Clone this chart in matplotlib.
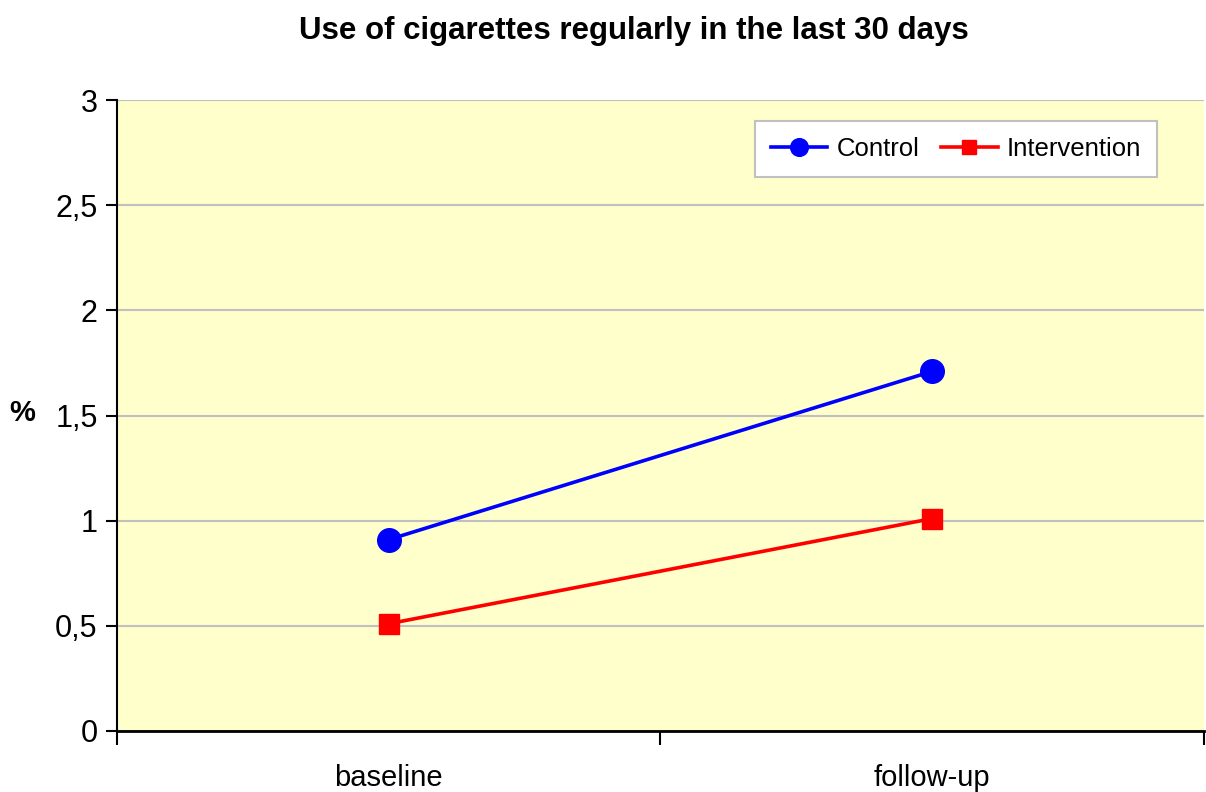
import matplotlib
matplotlib.use("Agg")
import matplotlib.pyplot as plt
from matplotlib.ticker import FixedLocator, NullFormatter, FixedFormatter

plt.rcParams['font.family'] = ['Liberation Sans', 'DejaVu Sans']

categories = ["baseline", "follow-up"]
control = [0.91, 1.71]
intervention = [0.51, 1.01]
y_ticks = [0, 0.5, 1, 1.5, 2, 2.5, 3]
y_labels = ["0", "0,5", "1", "1,5", "2", "2,5", "3"]

fig = plt.figure(figsize=(12.06, 7.92), dpi=100)
ax = fig.add_axes([117/1206, 1 - 731/792, (1204 - 117)/1206, (731 - 100)/792])
ax.set_facecolor("#FFFFCC")

x = [i + 0.5 for i in range(len(categories))]
ax.plot(x, control, color="#0000FF", lw=2.6, marker="o", ms=17,
        label="Control", zorder=3)
ax.plot(x, intervention, color="#FF0000", lw=2.6, marker="s", ms=14,
        label="Intervention", zorder=3)

ax.set_xlim(0, len(categories))
ax.set_ylim(0, 3)

# gridlines
ax.set_yticks(y_ticks)
ax.set_yticklabels(y_labels, fontsize=22)
ax.yaxis.grid(True, color="#C0C0C0", lw=1.5)
ax.set_axisbelow(True)

# category boundaries carry the tick marks, labels sit between them
ax.xaxis.set_major_locator(FixedLocator(list(range(len(categories) + 1))))
ax.xaxis.set_major_formatter(NullFormatter())
ax.xaxis.set_minor_locator(FixedLocator(x))
ax.xaxis.set_minor_formatter(FixedFormatter(categories))
ax.tick_params(axis="x", which="major", direction="out", length=10, width=1.5)
ax.tick_params(axis="x", which="minor", length=0, labelsize=21, pad=24)
ax.tick_params(axis="y", direction="out", length=8, width=1.5, pad=6)

for side in ("top", "right"):
    ax.spines[side].set_visible(False)
ax.spines["left"].set_linewidth(1.5)
ax.spines["bottom"].set_linewidth(2)

fig.text(22/1206, 1 - 413/792, "%", fontsize=21, fontweight="bold",
         ha="center", va="center")

fig.suptitle("Use of cigarettes regularly in the last 30 days",
             x=(297 + 970) / 2 / 1206, y=1 - 31/792, fontsize=22.5,
             fontweight="bold", va="center")

leg = ax.legend(loc="upper right", bbox_to_anchor=(1157/1206, 1 - 121/792),
                bbox_transform=fig.transFigure, borderaxespad=0, ncol=2,
                fontsize=18.5, frameon=True, fancybox=False, framealpha=1,
                facecolor="white", edgecolor="#C0C0C0", handlelength=2.2,
                columnspacing=0.85, handletextpad=0.35, borderpad=0.62,
                markerscale=0.75)
leg.get_frame().set_linewidth(1.5)

fig.savefig("out.png", dpi=100)
